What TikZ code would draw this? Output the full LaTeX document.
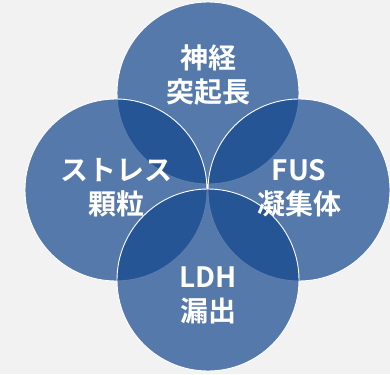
\documentclass[tikz,border=0pt]{standalone}
\usepackage{fontspec}
\newfontfamily\jpfont[BoldFont={Noto Sans CJK JP Bold}]{Noto Sans CJK JP}
\usepackage{tikz}
\usetikzlibrary{positioning}
\definecolor{paper}{RGB}{242, 242, 242}
\definecolor{lapis}{RGB}{19, 71, 142}

\tikzset{
    blob/.style={circle, minimum size=182pt, inner sep=0pt, fill=lapis, fill opacity=0.7, draw=white, line width=0.9pt},
    tag/.style={text=white, align=center, font=\jpfont\bfseries\fontsize{28}{34}\selectfont}
}

\begin{document}
\begin{tikzpicture}[x=1pt, y=-1pt]
            % Backdrop
            \fill[paper] (0, 0) rectangle (390, 374);
            \useasboundingbox (0, 0) rectangle (390, 374);
            % Four circles
            \node[blob] (neurite) at (208,  93) {};
            \node[blob] (granule) at (116, 190) {};
            \node[blob] (fus)     at (299, 190) {};
            \node[blob] (ldh)     at (208, 280) {};
            % Labels
            \node[tag] (neuritetag) at ([yshift=18pt]neurite.center)  {神経\\突起長};
            \node[tag] (granuletag) at ([yshift=2pt]granule.center)   {ストレス\\顆粒};
            \node[tag] (fustag)     at ([yshift=2pt]fus.center)       {FUS\\凝集体};
            \node[tag] (ldhtag)     at ([yshift=-15pt]ldh.center)     {LDH\\漏出};
        \end{tikzpicture}
\end{document}
